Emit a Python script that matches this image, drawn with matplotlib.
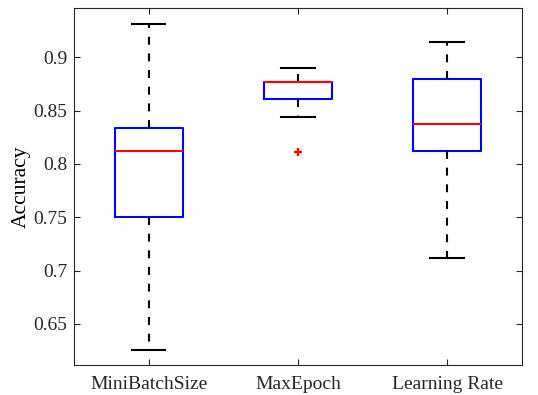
import matplotlib
matplotlib.use('Agg')
import matplotlib.pyplot as plt

# values
labels = ['MiniBatchSize', 'MaxEpoch', 'Learning Rate']
whislo = [0.626, 0.844, 0.7116]
q1 = [0.750, 0.8606, 0.8125]
med = [0.8122, 0.8769, 0.8378]
q3 = [0.8337, 0.8769, 0.880]
whishi = [0.931, 0.8903, 0.914]
fliers = [[], [0.8116], []]

plt.rcParams['font.family'] = ['Liberation Serif', 'DejaVu Serif']

stats = []
for i in range(len(labels)):
    stats.append(dict(label=labels[i], whislo=whislo[i], q1=q1[i], med=med[i],
                      q3=q3[i], whishi=whishi[i], fliers=fliers[i]))

fig = plt.figure(figsize=(5.38, 3.95), dpi=100)
ax = fig.add_axes([0.1375, 0.076, 0.8325, 0.903])

lw = 1.5
ax.bxp(stats, positions=[1, 2, 3], widths=0.455,
       boxprops=dict(color='#0000ff', lw=lw),
       medianprops=dict(color='#ff0000', lw=lw),
       whiskerprops=dict(color='k', lw=lw, linestyle=(0, (3.8, 4.2))),
       capprops=dict(color='k', lw=lw),
       capwidths=0.225,
       flierprops=dict(marker='+', markeredgecolor='#ff0000', markersize=6,
                       markeredgewidth=1.6, linestyle='none'))

ax.set_xlim(0.5, 3.5)
ax.set_ylim(0.6115, 0.946)
ax.set_yticks([0.65, 0.7, 0.75, 0.8, 0.85, 0.9])
ax.set_yticklabels(['0.65', '0.7', '0.75', '0.8', '0.85', '0.9'])
ax.set_ylabel('Accuracy', fontsize=15.5, labelpad=1.5)
ax.tick_params(direction='in', top=True, right=True, labelsize=14,
               length=4, width=0.8, colors='#262626')
ax.tick_params(axis='x', pad=8)
ax.tick_params(axis='y', pad=5)
for sp in ax.spines.values():
    sp.set_linewidth(0.8)
    sp.set_color('#262626')

plt.savefig('out.png', dpi=100)
